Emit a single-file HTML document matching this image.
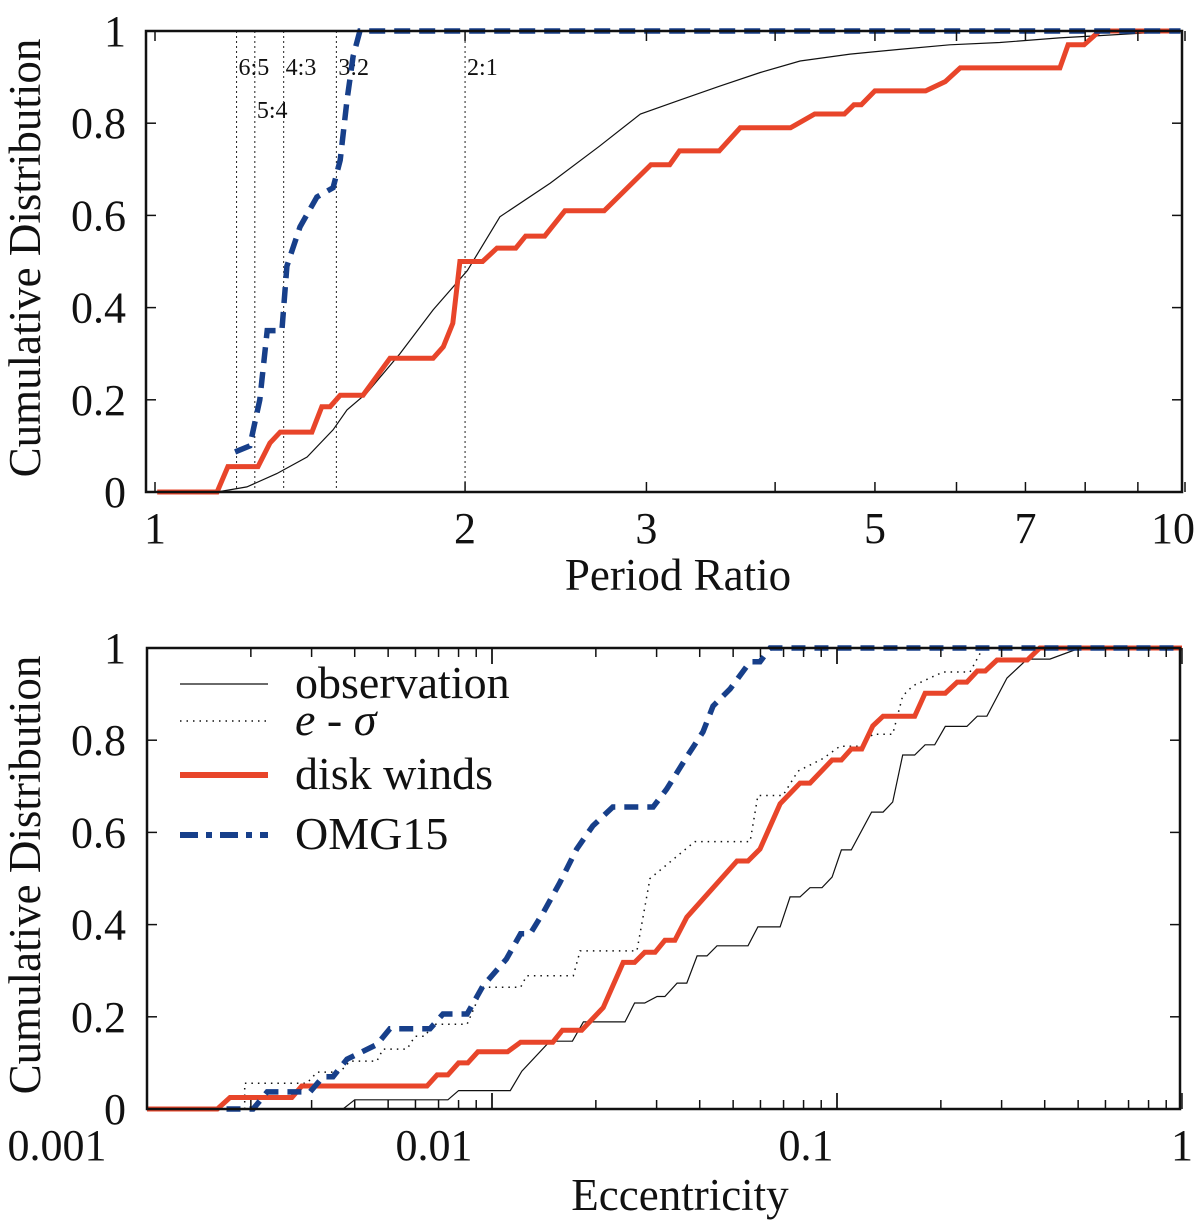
<!DOCTYPE html>
<html><head><meta charset="utf-8"><style>
body{margin:0;background:#fff}
svg text{font-family:"Liberation Serif",serif;fill:#111}
</style></head><body>
<svg id="c" width="1200" height="1225" xmlns="http://www.w3.org/2000/svg"></svg>
<script>
// ---- top panel data (period ratio, CDF) ----
const topObsX=[1.149,1.228,1.313,1.405,1.489,1.536,1.606,1.729,1.862,2.01,2.162,2.42,2.70,2.96,3.23,3.53,3.87,4.23,4.73,5.28,5.91,6.61,7.55,8.26,9.9];
const topObsY=[0,0.011,0.04,0.076,0.135,0.178,0.215,0.3,0.395,0.48,0.597,0.67,0.75,0.82,0.85,0.88,0.91,0.935,0.95,0.96,0.97,0.975,0.985,0.99,1.0];
const topWindX=[1.005,1.149,1.177,1.259,1.293,1.323,1.42,1.452,1.479,1.513,1.592,1.691,1.862,1.905,1.946,1.977,2.08,2.148,2.24,2.29,2.39,2.5,2.73,3.03,3.16,3.23,3.53,3.7,4.14,4.37,4.67,4.77,4.85,5.0,5.6,5.85,6.05,7.56,7.7,7.98,8.26,9.9];
const topWindY=[0,0,0.055,0.055,0.106,0.13,0.13,0.185,0.185,0.21,0.21,0.29,0.29,0.315,0.366,0.5,0.5,0.529,0.529,0.555,0.555,0.61,0.61,0.71,0.71,0.74,0.74,0.79,0.79,0.82,0.82,0.84,0.84,0.87,0.87,0.89,0.92,0.92,0.97,0.97,1.0,1.0];
const topOmgX=[1.196,1.236,1.264,1.285,1.328,1.343,1.383,1.436,1.489,1.513,1.536,1.557,1.581,9.9];
const topOmgY=[0.087,0.1,0.2,0.35,0.35,0.49,0.575,0.64,0.66,0.72,0.85,0.945,1.0,1.0];
const resX=[1.2,1.25,1.3333,1.5,2];
const resLabels=["6:5","5:4","4:3","3:2","2:1"];
const topTickVals=[1,2,3,5,7,10];
const yTickVals=[0,0.2,0.4,0.6,0.8,1];
const yTickLabels=["0","0.2","0.4","0.6","0.8","1"];
// ---- bottom panel data (eccentricity, CDF) ----
const botObsX=[0.001,0.0037,0.004,0.00745,0.008,0.0113,0.0122,0.01472,0.0171,0.0184,0.0243,0.0259,0.0277,0.0301,0.0317,0.0344,0.0367,0.0393,0.042,0.0449,0.0552,0.059,0.0684,0.0731,0.0781,0.0835,0.0905,0.0968,0.103,0.11,0.126,0.136,0.145,0.155,0.168,0.18,0.192,0.206,0.238,0.255,0.272,0.311,0.356,0.414,0.506,1.0];
const botObsY=[0,0,0.02,0.02,0.04,0.04,0.082,0.147,0.147,0.189,0.189,0.23,0.23,0.244,0.244,0.273,0.273,0.332,0.332,0.354,0.354,0.395,0.395,0.46,0.46,0.48,0.48,0.503,0.562,0.562,0.644,0.644,0.666,0.768,0.768,0.79,0.79,0.83,0.83,0.852,0.852,0.935,0.976,0.976,1.0,1.0];
const botSigX=[0.00192,0.00192,0.00291,0.00311,0.00362,0.00388,0.00464,0.00483,0.00567,0.00598,0.0064,0.00674,0.00847,0.00942,0.0121,0.0126,0.0172,0.018,0.0263,0.0287,0.0387,0.056,0.059,0.0697,0.0771,0.091,0.102,0.118,0.127,0.145,0.155,0.166,0.203,0.243,0.265,1.0];
const botSigY=[0,0.056,0.056,0.08,0.08,0.104,0.104,0.13,0.13,0.158,0.158,0.184,0.184,0.264,0.264,0.289,0.289,0.343,0.343,0.5,0.58,0.58,0.68,0.68,0.733,0.76,0.787,0.787,0.813,0.813,0.896,0.918,0.948,0.948,1.0,1.0];
const botWindX=[0.001,0.0016,0.00174,0.00263,0.00281,0.00648,0.00693,0.00745,0.008,0.00851,0.0091,0.0111,0.0121,0.015,0.016,0.0182,0.021,0.024,0.0259,0.0277,0.0297,0.0317,0.0339,0.0367,0.0513,0.0552,0.0598,0.0684,0.0781,0.0835,0.0968,0.103,0.11,0.118,0.127,0.136,0.168,0.18,0.206,0.223,0.238,0.255,0.269,0.291,0.356,0.387,1.0];
const botWindY=[0,0,0.025,0.025,0.05,0.05,0.074,0.074,0.1,0.1,0.124,0.124,0.145,0.145,0.171,0.171,0.22,0.318,0.318,0.34,0.34,0.366,0.366,0.416,0.538,0.538,0.564,0.662,0.707,0.707,0.757,0.757,0.781,0.781,0.831,0.852,0.852,0.902,0.902,0.926,0.926,0.95,0.95,0.974,0.974,1.0,1.0];
const botOmgX=[0.0017,0.00203,0.00223,0.00297,0.00324,0.00346,0.0038,0.00464,0.00506,0.00661,0.00721,0.00847,0.00942,0.011,0.0121,0.0129,0.0141,0.0157,0.0176,0.0196,0.0224,0.0293,0.0321,0.0367,0.0409,0.0437,0.049,0.056,0.0598,0.064,1.0];
const botOmgY=[0,0,0.037,0.037,0.07,0.07,0.108,0.14,0.174,0.174,0.206,0.206,0.267,0.325,0.38,0.38,0.427,0.49,0.564,0.614,0.655,0.655,0.694,0.764,0.818,0.874,0.911,0.97,0.97,1.0,1.0];
const botTickVals=[0.001,0.01,0.1,1];
const botTickLabels=["0.001","0.01","0.1","1"];

const NS="http://www.w3.org/2000/svg";
const svg=document.getElementById('c');
function mk(tag,attrs,parent){const e=document.createElementNS(NS,tag);for(const k in attrs)e.setAttribute(k,attrs[k]);(parent||svg).appendChild(e);return e;}

const T={x0:155,dec:1030,yb:492,yh:461,left:146,right:1182,top:31};
const B={x0:147,dec:345,yb:1109,yh:461,left:147,right:1180,top:648};
const txTop=v=>T.x0+T.dec*Math.log10(v);
const tyTop=v=>T.yb-T.yh*v;
const txBot=v=>B.x0+B.dec*(Math.log10(v)+3);
const tyBot=v=>B.yb-B.yh*v;

function pathD(xs,ys,fx,fy){return xs.map((x,i)=>(i?'L':'M')+fx(x).toFixed(1)+','+fy(ys[i]).toFixed(1)).join(' ');}

// ---------- TOP PANEL ----------
const gT=mk('g',{});


resX.forEach((r,i)=>{
  const l=mk('line',{x1:txTop(r),x2:txTop(r),y1:T.top,y2:T.yb,stroke:'#222','stroke-width':1,'stroke-dasharray':'2 3'},gT);
  
  
  const isLow=resLabels[i]==="5:4";
  const t=mk('text',{x:txTop(r)+2,y:isLow?118:75,'font-size':24},gT);
  t.textContent=resLabels[i];
  
  
});
let p=mk('path',{d:pathD(topObsX,topObsY,txTop,tyTop),fill:'none',stroke:'#111','stroke-width':1.2},gT);


p=mk('path',{d:pathD(topWindX,topWindY,txTop,tyTop),fill:'none',stroke:'#e8452a','stroke-width':5},gT);


p=mk('path',{d:pathD(topOmgX,topOmgY,txTop,tyTop),fill:'none',stroke:'#173f8a','stroke-width':5.5,'stroke-dasharray':'16 9'},gT);


let fr=mk('rect',{x:T.left,y:T.top,width:T.right-T.left,height:T.yb-T.top,fill:'none',stroke:'#111','stroke-width':2.5},gT);


for(let v=1;v<=10;v++){
  const x=txTop(v);
  mk('line',{x1:x,x2:x,y1:T.yb,y2:T.yb-10,stroke:'#111','stroke-width':1.5},gT);
  mk('line',{x1:x,x2:x,y1:T.top,y2:T.top+10,stroke:'#111','stroke-width':1.5},gT);
}
topTickVals.forEach(v=>{
  const t=mk('text',{x:txTop(v)+(v===10?-12:0),y:543,'font-size':44,'text-anchor':'middle'},gT);
  t.textContent=String(v);
  
  
});
yTickVals.forEach((v,i)=>{
  const y=tyTop(v);
  mk('line',{x1:T.left,x2:T.left+10,y1:y,y2:y,stroke:'#111','stroke-width':1.5},gT);
  mk('line',{x1:T.right,x2:T.right-10,y1:y,y2:y,stroke:'#111','stroke-width':1.5},gT);
  const t=mk('text',{x:126,y:y+15,'font-size':44,'text-anchor':'end'},gT);
  t.textContent=yTickLabels[i];
  
  
});
let t=mk('text',{x:678,y:590,'font-size':45,'text-anchor':'middle'},gT);
t.textContent='Period Ratio';


t=mk('text',{x:0,y:0,'font-size':45,'text-anchor':'middle',transform:'translate(40,258) rotate(-90)'},gT);
t.textContent='Cumulative Distribution';



// ---------- BOTTOM PANEL ----------
const gB=mk('g',{});


p=mk('path',{d:pathD(botObsX,botObsY,txBot,tyBot),fill:'none',stroke:'#111','stroke-width':1.2},gB);


p=mk('path',{d:pathD(botSigX,botSigY,txBot,tyBot),fill:'none',stroke:'#111','stroke-width':1.5,'stroke-dasharray':'1.5 5'},gB);


p=mk('path',{d:pathD(botWindX,botWindY,txBot,tyBot),fill:'none',stroke:'#e8452a','stroke-width':5},gB);


p=mk('path',{d:pathD(botOmgX,botOmgY,txBot,tyBot),fill:'none',stroke:'#173f8a','stroke-width':5.5,'stroke-dasharray':'14 9'},gB);


fr=mk('rect',{x:B.left,y:B.top,width:B.right-B.left,height:B.yb-B.top,fill:'none',stroke:'#111','stroke-width':2.5},gB);


for(let d=0.001;d<1;d*=10){
  for(let m=1;m<=10;m++){
    const v=d*m,x=txBot(v),len=(m===1||m===10)?16:9;
    mk('line',{x1:x,x2:x,y1:B.yb,y2:B.yb-len,stroke:'#111','stroke-width':1.5},gB);
    mk('line',{x1:x,x2:x,y1:B.top,y2:B.top+len,stroke:'#111','stroke-width':1.5},gB);
  }
}
const botLabOffset=[-90,-58,-31,0];
botTickVals.forEach((v,i)=>{
  const tt=mk('text',{x:txBot(v)+botLabOffset[i],y:1160,'font-size':44,'text-anchor':'middle'},gB);
  tt.textContent=botTickLabels[i];
  
  
});
yTickVals.forEach((v,i)=>{
  const y=tyBot(v);
  mk('line',{x1:B.left,x2:B.left+10,y1:y,y2:y,stroke:'#111','stroke-width':1.5},gB);
  mk('line',{x1:B.right,x2:B.right-10,y1:y,y2:y,stroke:'#111','stroke-width':1.5},gB);
  const tt=mk('text',{x:126,y:y+15,'font-size':44,'text-anchor':'end'},gB);
  tt.textContent=yTickLabels[i];
  
  
});
t=mk('text',{x:680,y:1210,'font-size':45,'text-anchor':'middle'},gB);
t.textContent='Eccentricity';


t=mk('text',{x:0,y:0,'font-size':45,'text-anchor':'middle',transform:'translate(40,875) rotate(-90)'},gB);
t.textContent='Cumulative Distribution';



// legend
const lg=mk('g',{},gB);


const legNames=['observation','e - σ','disk winds','OMG15'];
const legY=[684,721,775,835];
const legStyles=[{stroke:'#111','stroke-width':1.2},{stroke:'#111','stroke-width':1.5,'stroke-dasharray':'1.5 5'},{stroke:'#e8452a','stroke-width':6},{stroke:'#173f8a','stroke-width':6,'stroke-dasharray':'18 8 6 8'}];
legNames.forEach((n,i)=>{
  const e=mk('g',{},lg);
  
  
  mk('line',Object.assign({x1:180,x2:268,y1:legY[i],y2:legY[i]},legStyles[i]),e);
  const tt=mk('text',{x:295,y:legY[i]+14,'font-size':46},e);
  if(i===1)tt.setAttribute('font-style','italic');
  tt.textContent=n;
});
</script>
</body></html>
